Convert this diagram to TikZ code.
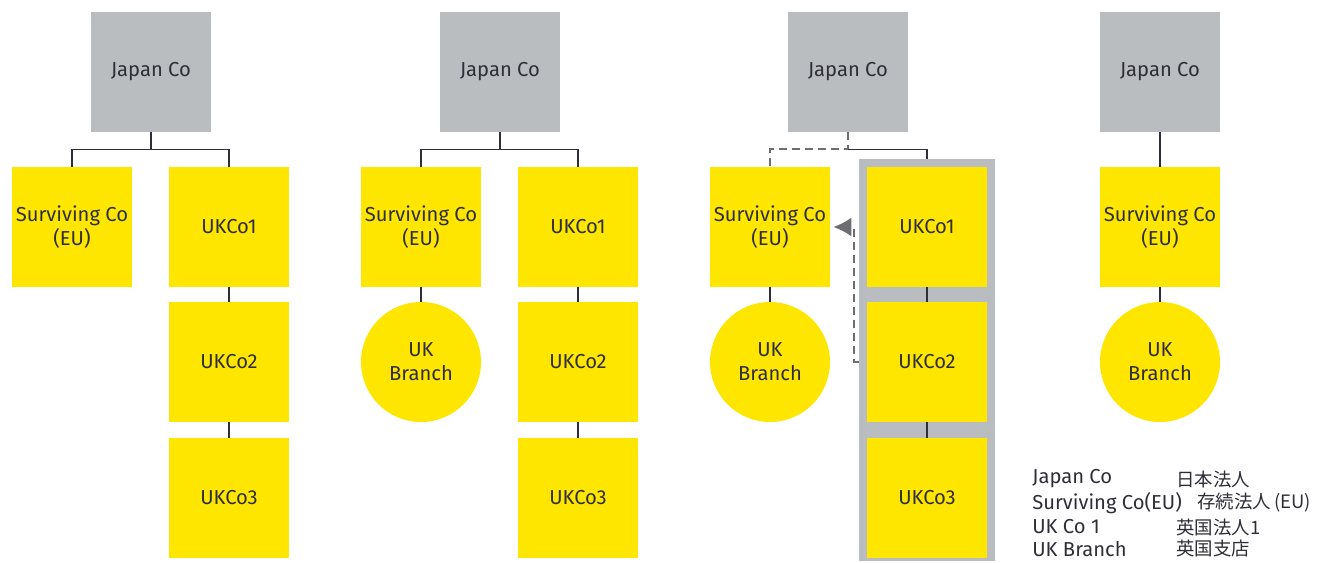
\documentclass[tikz,border=0pt]{standalone}
\usepackage{fontspec}
\setmainfont{Fira Sans}
\newfontfamily\jpfont{Noto Sans CJK JP}
\usetikzlibrary{arrows.meta}

\definecolor{eyyellow}{HTML}{FFE600}
\definecolor{eygray}{HTML}{BABDC0}
\definecolor{eyline}{HTML}{2E2E38}
\definecolor{eydash}{HTML}{6D6E71}

\tikzset{
  parentbox/.style={fill=eygray, minimum size=2.4cm, inner sep=0pt, align=center, font=\fontsize{11.5}{13.5}\selectfont, text=eyline},
  cobox/.style={fill=eyyellow, minimum size=2.4cm, inner sep=0pt, align=center, font=\fontsize{11.5}{13.5}\selectfont, text=eyline},
  branch/.style={circle, fill=eyyellow, minimum size=2.4cm, inner sep=0pt, align=center, font=\fontsize{11.5}{13.5}\selectfont, text=eyline},
  hilite/.style={fill=eygray, minimum width=2.72cm, minimum height=8.04cm, inner sep=0pt},
  conn/.style={draw=eyline, line width=0.8pt},
  moveconn/.style={draw=eydash, line width=1.2pt, dash pattern=on 0.16cm off 0.1cm},
  legend/.style={anchor=west, inner sep=0pt, font=\fontsize{11.5}{12}\selectfont, text=eyline},
  jplegend/.style={anchor=west, inner sep=0pt, font=\jpfont\fontsize{10.5}{12}\selectfont, text=eyline}
}

\begin{document}
\begin{tikzpicture}[x=0.02cm, y=-0.02cm]
  \useasboundingbox (0,0) rectangle (1340,562);

  % first structure
  \node[parentbox] (jp1) at (151,72) {Japan Co};
  \node[cobox] (sv1) at (72,227) {Surviving Co\\(EU)};
  \node[cobox] (ukA1) at (229,227) {UKCo1};
  \node[cobox] (ukB1) at (229,362) {UKCo2};
  \node[cobox] (ukC1) at (229,498) {UKCo3};

  \draw[conn] (jp1.south) -- ++(0,17) -| (sv1.north);
  \draw[conn] (jp1.south) -- ++(0,17) -| (ukA1.north);
  \draw[conn] (ukA1) -- (ukB1);
  \draw[conn] (ukB1) -- (ukC1);

  % second structure
  \node[parentbox] (jp2) at (500,72) {Japan Co};
  \node[cobox] (sv2) at (421,227) {Surviving Co\\(EU)};
  \node[branch] (br2) at (421,362) {UK\\Branch};
  \node[cobox] (ukA2) at (578,227) {UKCo1};
  \node[cobox] (ukB2) at (578,362) {UKCo2};
  \node[cobox] (ukC2) at (578,498) {UKCo3};

  \draw[conn] (jp2.south) -- ++(0,17) -| (sv2.north);
  \draw[conn] (jp2.south) -- ++(0,17) -| (ukA2.north);
  \draw[conn] (sv2) -- (br2);
  \draw[conn] (ukA2) -- (ukB2);
  \draw[conn] (ukB2) -- (ukC2);

  % third structure
  \node[parentbox] (jp3) at (848,72) {Japan Co};
  \node[hilite] (hl3) at (927,360) {};
  \node[cobox] (sv3) at (770,227) {Surviving Co\\(EU)};
  \node[branch] (br3) at (770,362) {UK\\Branch};
  \node[cobox] (ukA3) at (927,227) {UKCo1};
  \node[cobox] (ukB3) at (927,362) {UKCo2};
  \node[cobox] (ukC3) at (927,498) {UKCo3};

  \draw[moveconn] (jp3.south) -- ++(0,17) -| (sv3.north);
  \draw[conn] (jp3.south) ++(0,17) -| (hl3.north);
  \draw[conn] (sv3) -- (br3);
  \draw[conn] (ukA3) -- (ukB3);
  \draw[conn] (ukB3) -- (ukC3);
  \draw[moveconn, -{Latex[length=3.6mm, width=3.8mm]}] (hl3.west |- ukB3) -- ++(-5,0) |- ([xshift=0.6mm]sv3.east);

  % fourth structure
  \node[parentbox] (jp4) at (1160,72) {Japan Co};
  \node[cobox] (sv4) at (1160,227) {Surviving Co\\(EU)};
  \node[branch] (br4) at (1160,362) {UK\\Branch};

  \draw[conn] (jp4) -- (sv4);
  \draw[conn] (sv4) -- (br4);

  % legend
  \node[legend] (lgA) at (1032,479) {Japan Co};
  \node[legend] (lgB) at (1032,503) {Surviving Co(EU)};
  \node[legend] (lgC) at (1032,527) {UK Co 1};
  \node[legend] (lgD) at (1032,549) {UK Branch};
  \node[jplegend] (jpA) at (1176,479) {日本法人};
  \node[jplegend] (jpB) at (1197,503) {存続法人\,(EU)};
  \node[jplegend] (jpC) at (1176,527) {英国法人1};
  \node[jplegend] (jpD) at (1176,549) {英国支店};
\end{tikzpicture}
\end{document}
